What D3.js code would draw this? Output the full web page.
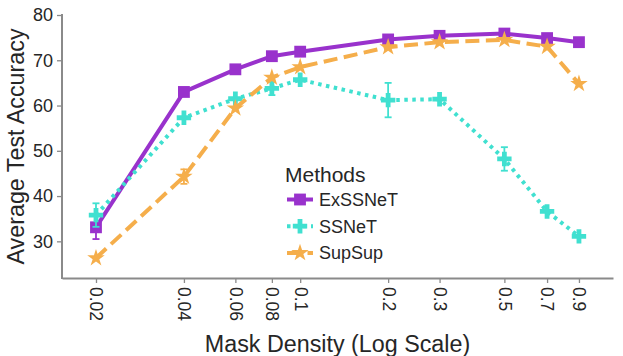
<!DOCTYPE html>
<html lang="en">
<head>
  <meta charset="UTF-8">
  <title>Mask Density vs Accuracy</title>
  <script src="https://d3js.org/d3.v7.min.js"></script>
  <style>
    body { margin: 0; background: #fff; }
    text { font-family: "Liberation Sans", Arial, sans-serif; fill: #262626; }
  </style>
</head>
<body>
<div id="chart"></div>
<script>
// data
var densities = [0.02, 0.04, 0.06, 0.08, 0.1, 0.2, 0.3, 0.5, 0.7, 0.9];
var tickLabels = ["0.02", "0.04", "0.06", "0.08", "0.1", "0.2", "0.3", "0.5", "0.7", "0.9"];
var yTicks = [30, 40, 50, 60, 70, 80];
var exssnet = [33.1, 63.0, 68.0, 70.9, 71.9, 74.6, 75.4, 75.9, 74.9, 74.0];
var exssnetErr = [2.6, 0.4, 0.4, 0.4, 0.3, 0.4, 0.3, 0.3, 0.4, 0.3];
var ssnet = [35.8, 57.3, 61.5, 63.8, 65.7, 61.2, 61.4, 48.2, 36.6, 31.1];
var ssnetErr = [2.6, 0.5, 0.6, 1.5, 0.5, 3.8, 0.6, 2.6, 0.7, 0.6];
var supsup = [26.3, 44.3, 59.4, 66.2, 68.5, 72.9, 74.0, 74.5, 73.0, 64.8];
var supsupErr = [0.4, 1.6, 0.4, 0.4, 0.4, 0.4, 0.3, 0.3, 0.4, 0.4];
var methods = ["ExSSNeT", "SSNeT", "SupSup"];

var series = [
  {name: methods[0], values: exssnet, err: exssnetErr, color: "#9932cc", dash: null, symbol: d3.symbolSquare, size: 140},
  {name: methods[1], values: ssnet, err: ssnetErr, color: "#40e0d0", dash: "3.5,4.5", symbol: d3.symbolCross, size: 115},
  {name: methods[2], values: supsup, err: supsupErr, color: "#f5ae4b", dash: "14,6.5", symbol: d3.symbolStar, size: 95}
];

var width = 623, height = 356;
var margin = {top: 15, right: 10, bottom: 78, left: 62};

var svg = d3.select("#chart").append("svg")
  .attr("width", width)
  .attr("height", height);

var x = d3.scaleLog()
  .domain([0.0153, 1.177])
  .range([margin.left, width - margin.right]);

var y = d3.scaleLinear()
  .domain([21.9, 80])
  .range([height - margin.bottom, margin.top]);

// axes
var xAxis = svg.append("g")
  .attr("transform", "translate(0," + (height - margin.bottom) + ")")
  .call(d3.axisBottom(x).tickValues(densities).tickFormat(function(d, i) { return tickLabels[i]; })
    .tickSize(5).tickSizeOuter(0));
xAxis.selectAll("text")
  .attr("transform", "rotate(90)")
  .attr("x", 9).attr("y", 0).attr("dy", "0.35em")
  .style("text-anchor", "start")
  .style("font-size", "17.5px");

var yAxis = svg.append("g")
  .attr("transform", "translate(" + margin.left + ",0)")
  .call(d3.axisLeft(y).tickValues(yTicks).tickSize(5).tickSizeOuter(0));
yAxis.selectAll("text").attr("x", -9).style("font-size", "18px");

[xAxis, yAxis].forEach(function(a) {
  a.select(".domain").attr("stroke", "#8a8a8a").attr("stroke-width", 2);
  a.selectAll(".tick line").attr("stroke", "#8a8a8a").attr("stroke-width", 1.3);
  a.attr("font-family", null);
});
// extend spines so they meet at the corner
yAxis.select(".domain").attr("d", "M0," + (margin.top - 1) + "V" + (height - margin.bottom + 1));

// labels
svg.append("text")
  .attr("x", (margin.left + width - margin.right) / 2)
  .attr("y", 352)
  .attr("text-anchor", "middle")
  .style("font-size", "23.3px")
  .text("Mask Density (Log Scale)");

svg.append("text")
  .attr("transform", "translate(24," + ((margin.top + height - margin.bottom) / 2) + ") rotate(-90)")
  .attr("text-anchor", "middle")
  .style("font-size", "23.3px")
  .text("Average Test Accuracy");

// series
var line = d3.line()
  .x(function(d) { return x(d[0]); })
  .y(function(d) { return y(d[1]); });

series.forEach(function(s) {
  var pts = densities.map(function(d, i) { return [d, s.values[i], s.err[i]]; });
  var g = svg.append("g");

  g.append("path")
    .datum(pts)
    .attr("fill", "none")
    .attr("stroke", s.color)
    .attr("stroke-width", 4)
    .attr("stroke-dasharray", s.dash)
    .attr("d", line);

  // error bars
  var eb = g.selectAll(".err").data(pts).enter().append("g").attr("stroke", s.color).attr("stroke-width", 1.8);
  eb.append("line")
    .attr("x1", function(d) { return x(d[0]); }).attr("x2", function(d) { return x(d[0]); })
    .attr("y1", function(d) { return y(d[1] - d[2]); }).attr("y2", function(d) { return y(d[1] + d[2]); });
  eb.filter(function(d) { return d[2] > 1; }).append("line")
    .attr("x1", function(d) { return x(d[0]) - 3.5; }).attr("x2", function(d) { return x(d[0]) + 3.5; })
    .attr("y1", function(d) { return y(d[1] - d[2]); }).attr("y2", function(d) { return y(d[1] - d[2]); });
  eb.filter(function(d) { return d[2] > 1; }).append("line")
    .attr("x1", function(d) { return x(d[0]) - 3.5; }).attr("x2", function(d) { return x(d[0]) + 3.5; })
    .attr("y1", function(d) { return y(d[1] + d[2]); }).attr("y2", function(d) { return y(d[1] + d[2]); });

  g.selectAll(".mk").data(pts).enter().append("path")
    .attr("transform", function(d) { return "translate(" + x(d[0]) + "," + y(d[1]) + ")"; })
    .attr("d", d3.symbol().type(s.symbol).size(s.size))
    .attr("fill", s.color);
});

// legend
var legend = svg.append("g").attr("transform", "translate(285,0)");
legend.append("text")
  .attr("x", 0).attr("y", 182)
  .style("font-size", "21px")
  .text("Methods");

series.forEach(function(s, i) {
  var ly = 199.5 + i * 26.7;
  legend.append("line")
    .attr("x1", 2).attr("x2", 28)
    .attr("y1", ly).attr("y2", ly)
    .attr("stroke", s.color).attr("stroke-width", 4)
    .attr("stroke-dasharray", s.dash);
  legend.append("path")
    .attr("transform", "translate(15," + ly + ")")
    .attr("d", d3.symbol().type(s.symbol).size(s.size))
    .attr("fill", s.color);
  legend.append("text")
    .attr("x", 34).attr("y", ly).attr("dy", "0.35em")
    .style("font-size", "18px")
    .text(s.name);
});
</script>
</body>
</html>
